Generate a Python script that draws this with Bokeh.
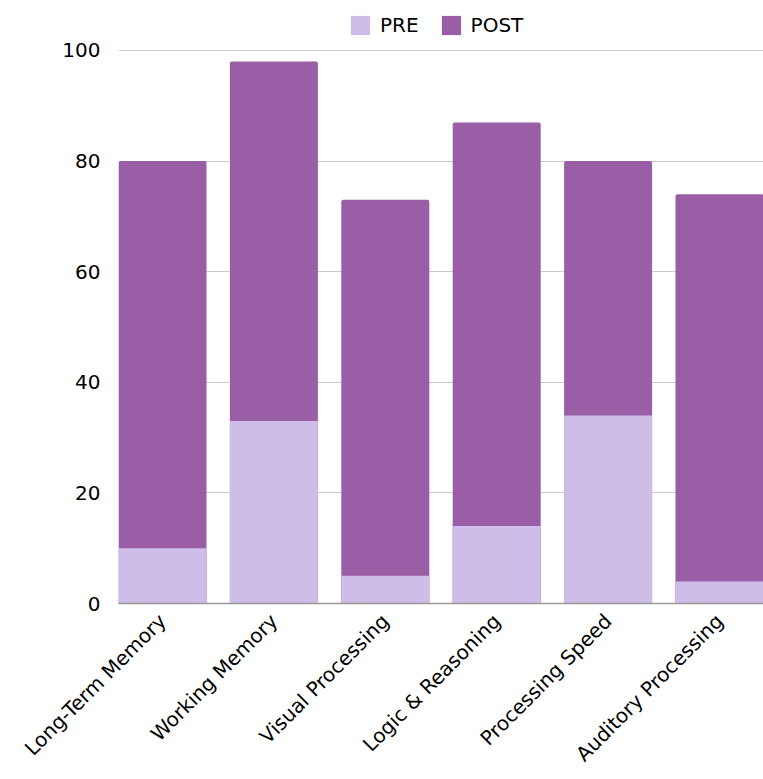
import math
from bokeh.plotting import figure
from bokeh.models import Range1d, FixedTicker, Legend, LegendItem, ColumnDataSource
from bokeh.embed import file_html
from bokeh.resources import INLINE

categories = ["Long-Term Memory", "Working Memory", "Visual Processing",
              "Logic & Reasoning", "Processing Speed", "Auditory Processing"]
pre = [10, 33, 5, 14, 34, 4]
post = [80, 98, 73, 87, 80, 74]
y_ticks = [0, 20, 40, 60, 80, 100]

PRE_COLOR = "#cebde8"
POST_COLOR = "#9a5ea6"
FONT = "DejaVu Sans"

xs = [i + 0.5 for i in range(len(categories))]
src = ColumnDataSource(dict(x=xs, pre=pre, post=post))

# frame reaches the top of the page so that the legend fits above the 100 line
p = figure(width=763, height=779, output_backend="svg", toolbar_location=None,
           x_range=Range1d(0.105, 5.895), y_range=Range1d(0, 109.04),
           min_border_left=118, min_border_right=0, min_border_top=0,
           min_border_bottom=176)
p.outline_line_color = None
p.background_fill_color = "white"

r_post = p.vbar(x="x", top="post", bottom=0, width=0.79, source=src,
                fill_color=POST_COLOR, line_color=None, border_radius=[2, 2, 0, 0])
r_pre = p.vbar(x="x", top="pre", bottom=0, width=0.79, source=src,
               fill_color=PRE_COLOR, line_color=None)

p.xaxis.ticker = FixedTicker(ticks=xs)
p.xaxis.major_label_overrides = {x: c for x, c in zip(xs, categories)}
p.xaxis.major_label_orientation = math.pi / 4
p.xaxis.axis_line_color = "#999999"
p.xaxis.axis_line_width = 1.5
p.xaxis.major_tick_line_color = None
p.xaxis.minor_tick_line_color = None
p.xaxis.major_label_text_font = FONT
p.xaxis.major_label_text_font_size = "20px"
p.xaxis.major_label_text_color = "#000000"
p.xaxis.major_label_standoff = 8
p.xgrid.grid_line_color = None

p.yaxis.ticker = FixedTicker(ticks=y_ticks)
p.yaxis.axis_line_color = None
p.yaxis.major_tick_line_color = None
p.yaxis.minor_tick_line_color = None
p.yaxis.major_label_text_font = FONT
p.yaxis.major_label_text_font_size = "20px"
p.yaxis.major_label_text_color = "#000000"
p.yaxis.major_label_standoff = 12
p.ygrid.grid_line_color = "#cccccc"
p.ygrid.grid_line_width = 1

legend = Legend(items=[LegendItem(label="PRE", renderers=[r_pre]),
                       LegendItem(label="POST", renderers=[r_post])],
                orientation="horizontal", location=(230, 566),
                glyph_width=24, glyph_height=24, label_standoff=8, spacing=20,
                padding=0, margin=0, border_line_color=None,
                background_fill_alpha=0, label_text_font=FONT,
                label_text_font_size="20px", label_text_color="#000000")
p.add_layout(legend, "center")

open("out.html", "w").write(file_html(p, INLINE))
